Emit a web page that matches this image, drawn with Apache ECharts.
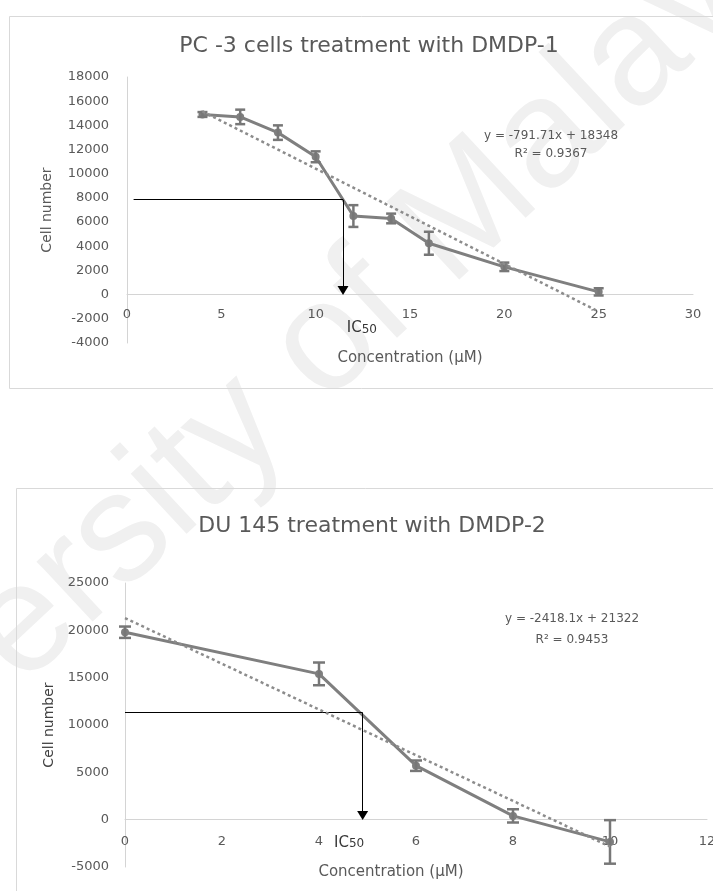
<!DOCTYPE html>
<html>
<head>
<meta charset="utf-8">
<script src="https://cdn.jsdelivr.net/npm/echarts@6/dist/echarts.min.js"></script>
<style>
  html, body { margin: 0; padding: 0; background: #fff; }
  #chart { width: 713px; height: 891px; }
</style>
</head>
<body>
<div id="chart"></div>
<script>
// ---------- data ----------
const pc3Conc = [4, 6, 8, 10, 12, 14, 16, 20, 25];
const pc3Cells = [14900, 14700, 13400, 11400, 6500, 6300, 4250, 2300, 230];
const pc3Err = [200, 600, 600, 450, 900, 400, 950, 350, 300];
const pc3Trend = [[4, 15150], [25, -1400]];
const pc3Ic50 = [0.35, 11.45, 7850, 350];      // [line start x, IC50 x, level y, arrow tip y]
const pc3Equation = ['y = -791.71x + 18348', 'R² = 0.9367'];
const pc3XTicks = [0, 30, 5];
const pc3YTicks = [-4000, 18000, 2000];

const duConc = [0, 4, 6, 8, 10];
const duCells = [19800, 15400, 5700, 400, -2350];
const duErr = [600, 1200, 550, 700, 2300];
const duTrend = [[0, 21300], [10, -2850]];
const duIc50 = [0, 4.9, 11300, 450];
const duEquation = ['y = -2418.1x + 21322', 'R² = 0.9453'];
const duXTicks = [0, 12, 2];
const duYTicks = [-5000, 25000, 5000];

const titles = ['PC -3 cells treatment with DMDP-1', 'DU 145 treatment with DMDP-2'];
const xName = 'Concentration (µM)';
const yName = 'Cell number';
const watermark = 'University of Malaya';

// ---------- styles ----------
const FONT = 'DejaVu Sans';
const TXT = '#595959';
const SER = '#7f7f7f';
const AXIS = '#d4d4d4';

const chart = echarts.init(document.getElementById('chart'), null, { renderer: 'canvas' });

function xAxisCfg(grid, t, margin, gap, pad) {
  return {
    type: 'value', gridIndex: grid, min: t[0], max: t[1], interval: t[2],
    axisLine: { show: true, onZero: true, lineStyle: { color: AXIS, width: 1 } },
    axisTick: { show: false }, splitLine: { show: false },
    axisLabel: { color: TXT, fontSize: 13, fontFamily: FONT, margin: margin },
    name: xName, nameLocation: 'middle', nameGap: gap,
    nameTextStyle: { color: TXT, fontSize: 15, fontFamily: FONT, padding: pad }
  };
}
function yAxisCfg(grid, t, margin, gap, nameColor) {
  return {
    type: 'value', gridIndex: grid, min: t[0], max: t[1], interval: t[2],
    axisLine: { show: true, onZero: false, lineStyle: { color: AXIS, width: 1 } },
    axisTick: { show: false }, splitLine: { show: false },
    axisLabel: { color: TXT, fontSize: 13, fontFamily: FONT, margin: margin,
      formatter: v => String(v) },
    name: yName, nameLocation: 'middle', nameGap: gap,
    nameTextStyle: { color: nameColor, fontSize: 14, fontFamily: FONT }
  };
}

function errorSeries(idx, xs, ys, es, capHalf) {
  return {
    type: 'custom', xAxisIndex: idx, yAxisIndex: idx, z: 4,
    data: xs.map((x, i) => [x, ys[i], es[i]]),
    encode: { x: 0, y: 1 },
    renderItem: function (params, api) {
      const x = api.value(0), y = api.value(1), e = api.value(2);
      const top = api.coord([x, y + e]);
      const bot = api.coord([x, y - e]);
      const st = { stroke: '#777777', lineWidth: 2.5 };
      return {
        type: 'group',
        children: [
          { type: 'line', shape: { x1: top[0], y1: top[1], x2: bot[0], y2: bot[1] }, style: st },
          { type: 'line', shape: { x1: top[0] - capHalf, y1: top[1], x2: top[0] + capHalf, y2: top[1] }, style: st },
          { type: 'line', shape: { x1: bot[0] - capHalf, y1: bot[1], x2: bot[0] + capHalf, y2: bot[1] }, style: st }
        ]
      };
    }
  };
}

function lineSeries(idx, xs, ys, ic) {
  return {
    type: 'line', xAxisIndex: idx, yAxisIndex: idx, z: 3,
    data: xs.map((x, i) => [x, ys[i]]),
    symbol: 'circle', symbolSize: 8, showSymbol: true,
    lineStyle: { color: SER, width: 3 },
    itemStyle: { color: SER },
    markLine: {
      silent: true, animation: false,
      label: { show: false },
      lineStyle: { color: '#000', width: 1, type: 'solid' },
      data: [
        [{ coord: [ic[0], ic[2]], symbol: 'none' }, { coord: [ic[1], ic[2]], symbol: 'none' }],
        [{ coord: [ic[1], ic[2]], symbol: 'none' }, { coord: [ic[1], ic[3]], symbol: 'triangle', symbolSize: [11, 9] }]
      ]
    }
  };
}

function trendSeries(idx, pts) {
  return {
    type: 'line', xAxisIndex: idx, yAxisIndex: idx, z: 5,
    data: pts, symbol: 'none',
    lineStyle: { color: '#8c8c8c', width: 2.5, type: [3, 3] }
  };
}

function icLabel(idx, pos) {
  return {
    type: 'scatter', xAxisIndex: idx, yAxisIndex: idx, z: 6,
    data: [pos], symbolSize: 0, silent: true,
    label: {
      show: true, position: 'inside', formatter: '{a|IC}{b|50}',
      rich: {
        a: { fontFamily: FONT, fontSize: 15, color: '#000', lineHeight: 18 },
        b: { fontFamily: FONT, fontSize: 12, color: '#000', lineHeight: 18, padding: [3, 0, 0, 0] }
      }
    }
  };
}

const eqStyle = { fill: TXT, fontSize: 12, fontFamily: FONT, align: 'center', verticalAlign: 'middle' };

chart.setOption({
  animation: false,
  backgroundColor: '#ffffff',
  title: [
    { text: titles[0], left: 364, top: 30, textAlign: 'center',
      textStyle: { color: TXT, fontSize: 22, fontWeight: 'normal', fontFamily: FONT } },
    { text: titles[1], left: 367, top: 510, textAlign: 'center',
      textStyle: { color: TXT, fontSize: 22, fontWeight: 'normal', fontFamily: FONT } }
  ],
  graphic: [
    { type: 'text', x: 276, y: 392, rotation: 43 * Math.PI / 180, z: -10, silent: true,
      style: { text: watermark, x: 0, y: 0, align: 'center', verticalAlign: 'middle',
        fontSize: 155, fontFamily: 'Liberation Sans', fill: '#f0f0f0' } },
    { type: 'rect', z: -5, silent: true, shape: { x: 9.5, y: 16.5, width: 730, height: 372 },
      style: { fill: 'none', stroke: '#d9d9d9', lineWidth: 1 } },
    { type: 'rect', z: -5, silent: true, shape: { x: 16.5, y: 488.5, width: 730, height: 460 },
      style: { fill: 'none', stroke: '#d9d9d9', lineWidth: 1 } },
    { type: 'text', x: 551, y: 136, z: 10, style: Object.assign({ text: pc3Equation[0] }, eqStyle) },
    { type: 'text', x: 551, y: 154, z: 10, style: Object.assign({ text: pc3Equation[1] }, eqStyle) },
    { type: 'text', x: 572, y: 619, z: 10, style: Object.assign({ text: duEquation[0] }, eqStyle) },
    { type: 'text', x: 572, y: 640, z: 10, style: Object.assign({ text: duEquation[1] }, eqStyle) }
  ],
  grid: [
    { left: 127, right: 20, top: 77, bottom: 548, outerBoundsMode: 'none' },
    { left: 125, right: 6, top: 583, bottom: 24, outerBoundsMode: 'none' }
  ],
  xAxis: [
    xAxisCfg(0, pc3XTicks, -35, 8, [0, 0, 0, 0]),
    xAxisCfg(1, duXTicks, -32, -2, [0, 50, 0, 0])
  ],
  yAxis: [
    yAxisCfg(0, pc3YTicks, 18, 73, TXT),
    yAxisCfg(1, duYTicks, 16, 67, '#404040')
  ],
  series: [
    lineSeries(0, pc3Conc, pc3Cells, pc3Ic50),
    errorSeries(0, pc3Conc, pc3Cells, pc3Err, 5),
    trendSeries(0, pc3Trend),
    icLabel(0, [12.45, -2750]),
    lineSeries(1, duConc, duCells, duIc50),
    errorSeries(1, duConc, duCells, duErr, 6),
    trendSeries(1, duTrend),
    icLabel(1, [4.62, -2450])
  ]
});
</script>
</body>
</html>
